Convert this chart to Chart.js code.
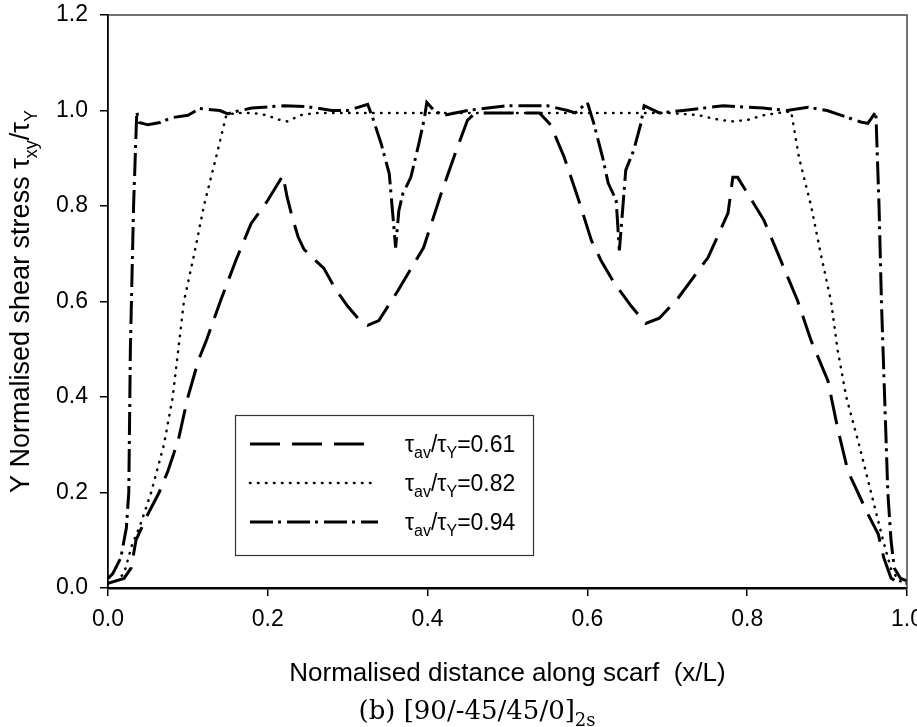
<!DOCTYPE html>
<html>
<head>
<meta charset="utf-8">
<script src="https://cdn.jsdelivr.net/npm/chart.js@4.4.0/dist/chart.umd.min.js"></script>
<style>
  html, body { margin: 0; padding: 0; background: #fff; }
  canvas { display: block; }
</style>
</head>
<body>
<canvas id="chart" width="917" height="727"></canvas>
<script>
// ---------- data ----------

// tau_av/tau_Y = 0.61  (long dashes)
const xLow = [0, 0.01, 0.02, 0.029, 0.035, 0.05, 0.064, 0.075, 0.088, 0.1, 0.113, 0.123, 0.141, 0.16, 0.179, 0.2, 0.219,
  0.224, 0.23, 0.238, 0.245, 0.257, 0.27, 0.285, 0.3, 0.313, 0.325, 0.339, 0.363, 0.395, 0.417, 0.436, 0.45, 0.46,
  0.5, 0.54, 0.554, 0.571, 0.588, 0.605, 0.617, 0.633, 0.655, 0.673, 0.69, 0.713, 0.751, 0.776, 0.782, 0.788, 0.798,
  0.821, 0.842, 0.863, 0.88, 0.901, 0.913, 0.926, 0.951, 0.964, 0.971, 0.98, 0.99, 1.0];
const yLow = [0.01, 0.015, 0.02, 0.042, 0.1, 0.155, 0.2, 0.245, 0.31, 0.4, 0.476, 0.518, 0.602, 0.686, 0.763, 0.812, 0.864,
  0.82, 0.78, 0.735, 0.71, 0.69, 0.67, 0.625, 0.59, 0.565, 0.55, 0.56, 0.623, 0.713, 0.826, 0.917, 0.98, 0.995,
  0.995, 0.995, 0.97, 0.902, 0.818, 0.728, 0.686, 0.64, 0.59, 0.554, 0.565, 0.606, 0.692, 0.785, 0.86, 0.86, 0.833,
  0.77, 0.686, 0.602, 0.518, 0.434, 0.336, 0.245, 0.155, 0.113, 0.063, 0.021, 0.01, 0.01];

// tau_av/tau_Y = 0.82  (dotted)
const xMid = [0, 0.01, 0.02, 0.03, 0.04, 0.054, 0.07, 0.081, 0.088, 0.095, 0.108, 0.12, 0.135, 0.148, 0.16, 0.18, 0.2,
  0.21, 0.225, 0.24, 0.26, 0.3, 0.4, 0.5, 0.6, 0.7, 0.74, 0.76, 0.78, 0.8, 0.82, 0.84, 0.855, 0.865, 0.88, 0.892,
  0.905, 0.913, 0.924, 0.94, 0.955, 0.97, 0.98, 0.99, 1.0];
const yMid = [0.01, 0.015, 0.03, 0.09, 0.13, 0.2, 0.3, 0.4, 0.5, 0.6, 0.7, 0.8, 0.9, 0.99, 0.995, 0.995, 0.99,
  0.982, 0.977, 0.99, 0.995, 0.995, 0.995, 0.995, 0.995, 0.995, 0.99, 0.982, 0.977, 0.98, 0.99, 0.995, 0.998, 0.9, 0.8, 0.7,
  0.6, 0.5, 0.4, 0.3, 0.2, 0.1, 0.04, 0.015, 0.01];

// tau_av/tau_Y = 0.94  (dash-dot)
const xHigh = [0, 0.006, 0.016, 0.023, 0.026, 0.028, 0.032, 0.036, 0.039, 0.05, 0.065, 0.08, 0.1, 0.115, 0.14, 0.15, 0.16,
  0.18, 0.22, 0.25, 0.28, 0.3, 0.325, 0.331, 0.342, 0.352, 0.36, 0.364, 0.369, 0.379, 0.389, 0.396, 0.399, 0.408,
  0.42, 0.45, 0.5, 0.55, 0.575, 0.585, 0.6, 0.608, 0.619, 0.626, 0.636, 0.64, 0.644, 0.648, 0.658, 0.667, 0.671,
  0.69, 0.72, 0.77, 0.82, 0.85, 0.876, 0.9, 0.942, 0.951, 0.961, 0.965, 0.968, 0.972, 0.976, 0.98, 0.984, 0.992, 1.0];
const yHigh = [0.02, 0.03, 0.063, 0.126, 0.2, 0.5, 0.8, 0.997, 0.975, 0.97, 0.975, 0.985, 0.99, 1.004, 1.0, 0.993, 0.998,
  1.005, 1.01, 1.008, 1.0, 1.0, 1.013, 0.986, 0.93, 0.868, 0.713, 0.79, 0.826, 0.86, 0.93, 0.984, 1.017, 1.0,
  0.99, 1.0, 1.01, 1.01, 1.0, 0.995, 1.017, 0.973, 0.902, 0.848, 0.812, 0.707, 0.79, 0.875, 0.917, 0.973, 1.01,
  0.995, 1.0, 1.01, 1.005, 1.0, 1.007, 1.0, 0.976, 0.973, 0.997, 0.8, 0.6, 0.4, 0.2, 0.1, 0.042, 0.02, 0.015];

const seriesLabels = ['0.61', '0.82', '0.94'];
const xTicks = [0, 0.2, 0.4, 0.6, 0.8, 1.0];
const yTicks = [0, 0.2, 0.4, 0.6, 0.8, 1.0, 1.2];

// ---------- helpers ----------

function toPoints(xs, ys) {
  return xs.map(function (x, i) { return { x: x, y: ys[i] }; });
}

const SANS = '"Liberation Sans", Arial, sans-serif';
const SERIF = '"DejaVu Serif", serif';

// draws text pieces; pieces marked sub are smaller and lowered
function richWidth(ctx, parts, size, family) {
  let w = 0;
  parts.forEach(function (p) {
    ctx.font = (p.sub ? Math.round(size * 0.68) : size) + 'px ' + family;
    w += ctx.measureText(p.t).width;
  });
  return w;
}
function drawRich(ctx, parts, x, y, size, family) {
  ctx.textAlign = 'left';
  ctx.textBaseline = 'alphabetic';
  parts.forEach(function (p) {
    const s = p.sub ? Math.round(size * 0.68) : size;
    ctx.font = s + 'px ' + family;
    ctx.fillText(p.t, x, p.sub ? y + size * 0.28 : y);
    x += ctx.measureText(p.t).width;
  });
}

// ---------- datasets ----------

const styles = [
  { borderWidth: 3, borderDash: [30, 12], borderCapStyle: 'butt' },
  { borderWidth: 2.5, borderDash: [0.5, 7.5], borderCapStyle: 'round' },
  { borderWidth: 3, borderDash: [23, 5, 3, 6], borderCapStyle: 'butt' },
];

const datasets = [toPoints(xLow, yLow), toPoints(xMid, yMid), toPoints(xHigh, yHigh)].map(function (pts, i) {
  return Object.assign({
    label: seriesLabels[i],
    data: pts,
    showLine: true,
    borderColor: '#000',
    backgroundColor: '#000',
    pointRadius: 0,
    tension: 0,
    fill: false,
  }, styles[i]);
});

// ---------- frame, legend, titles ----------

const decorPlugin = {
  id: 'decor',
  afterDraw: function (chart) {
    const ctx = chart.ctx;
    const a = chart.chartArea;
    ctx.save();

    // top and right frame
    ctx.strokeStyle = '#444';
    ctx.lineWidth = 1.5;
    ctx.setLineDash([]);
    ctx.beginPath();
    ctx.moveTo(a.left, a.top);
    ctx.lineTo(a.right, a.top);
    ctx.lineTo(a.right, a.bottom);
    ctx.stroke();

    // legend box
    ctx.fillStyle = '#fff';
    ctx.fillRect(235, 415, 298, 140);
    ctx.strokeStyle = '#333';
    ctx.lineWidth = 1.2;
    ctx.strokeRect(235.5, 415.5, 298, 140);

    const rows = [444, 483, 522];
    datasets.forEach(function (ds, i) {
      ctx.strokeStyle = '#000';
      ctx.lineWidth = ds.borderWidth;
      ctx.lineCap = ds.borderCapStyle;
      ctx.setLineDash(ds.borderDash);
      ctx.beginPath();
      ctx.moveTo(250, rows[i]);
      ctx.lineTo(i === 0 ? 366 : 378, rows[i]);
      ctx.stroke();
      ctx.setLineDash([]);
      ctx.fillStyle = '#000';
      drawRich(ctx, [{ t: 'τ' }, { t: 'av', sub: true }, { t: '/τ' }, { t: 'Y', sub: true }, { t: '=' + ds.label }],
        405, rows[i] + 8, 23, SANS);
    });

    ctx.fillStyle = '#000';

    // x axis title
    ctx.font = '26px ' + SANS;
    ctx.textAlign = 'center';
    ctx.textBaseline = 'alphabetic';
    ctx.fillText('Normalised distance along scarf  (x/L)', (a.left + a.right) / 2, 681);

    // caption
    const cap = [{ t: '(b) [90/-45/45/0]' }, { t: '2s', sub: true }];
    const capW = richWidth(ctx, cap, 26, SERIF);
    drawRich(ctx, cap, 477 - capW / 2, 719, 26, SERIF);

    // y axis title (rotated)
    const yt = [{ t: 'Y Normalised shear stress τ' }, { t: 'xy', sub: true }, { t: '/τ' }, { t: 'Y', sub: true }];
    const ytW = richWidth(ctx, yt, 27, SANS);
    ctx.translate(29, (a.top + a.bottom) / 2);
    ctx.rotate(-Math.PI / 2);
    drawRich(ctx, yt, -ytW / 2, 0, 27, SANS);

    ctx.restore();
  },
};

// ---------- chart ----------

const tickFont = { family: SANS, size: 23 };

new Chart(document.getElementById('chart').getContext('2d'), {
  type: 'scatter',
  data: { datasets: datasets },
  options: {
    responsive: false,
    animation: false,
    devicePixelRatio: 1,
    layout: { padding: { top: 15, right: 10, left: 0, bottom: 0 } },
    plugins: {
      legend: { display: false },
      tooltip: { enabled: false },
    },
    scales: {
      x: {
        type: 'linear',
        min: 0,
        max: 1,
        afterBuildTicks: function (scale) { scale.ticks = xTicks.map(function (v) { return { value: v }; }); },
        ticks: {
          color: '#000',
          font: tickFont,
          padding: 10,
          maxRotation: 0,
          autoSkip: false,
          callback: function (v) { return v.toFixed(1); },
        },
        grid: { drawOnChartArea: false, drawTicks: true, tickLength: 8, color: '#000', lineWidth: 1.5 },
        border: { display: true, color: '#000', width: 2.5 },
        afterFit: function (scale) {
          scale.height = 139;
          scale.paddingLeft = 0;
          scale.paddingRight = 0;
        },
      },
      y: {
        type: 'linear',
        min: 0,
        max: 1.2,
        afterBuildTicks: function (scale) { scale.ticks = yTicks.map(function (v) { return { value: v }; }); },
        ticks: {
          color: '#000',
          font: tickFont,
          padding: 12,
          callback: function (v) { return v.toFixed(1); },
        },
        grid: { drawOnChartArea: false, drawTicks: true, tickLength: 8, color: '#000', lineWidth: 1.5 },
        border: { display: true, color: '#000', width: 1.8 },
        afterFit: function (scale) {
          scale.width = 108;
          scale.paddingTop = 0;
          scale.paddingBottom = 0;
        },
      },
    },
  },
  plugins: [decorPlugin],
});
</script>
</body>
</html>
